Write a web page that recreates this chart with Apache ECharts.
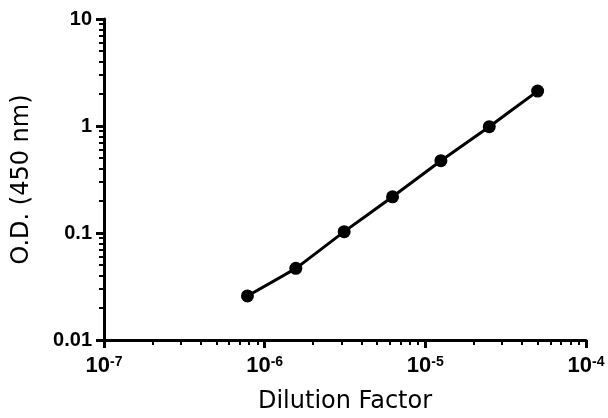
<!DOCTYPE html>
<html>
<head>
<meta charset="utf-8">
<script src="https://cdn.jsdelivr.net/npm/echarts@6/dist/echarts.min.js"></script>
<style>
html,body{margin:0;padding:0;background:#fff;}
#chart{width:608px;height:418px;}
</style>
</head>
<body>
<div id="chart"></div>
<script>
// Data
var dilutions = [7.8125e-7, 1.5625e-6, 3.125e-6, 6.25e-6, 1.25e-5, 2.5e-5, 5e-5];
var odValues = [0.0258, 0.0468, 0.103, 0.218, 0.474, 0.985, 2.12];
var xTickValues = [1e-7, 1e-6, 1e-5, 1e-4];
var xTickExponents = ['-7', '-6', '-5', '-4'];
var yTickValues = [0.01, 0.1, 1, 10];
var yTickLabels = ['0.01', '0.1', '1', '10'];
var minorMultipliers = [2, 3, 4, 5, 6, 7, 8, 9];

function minorTicks(decades) {
  var out = [];
  for (var i = 0; i < decades.length - 1; i++) {
    for (var j = 0; j < minorMultipliers.length; j++) {
      out.push(decades[i] * minorMultipliers[j]);
    }
  }
  return out;
}

function nearestIndex(arr, v) {
  var best = 0, bd = Infinity;
  for (var i = 0; i < arr.length; i++) {
    var d = Math.abs(Math.log10(arr[i]) - Math.log10(v));
    if (d < bd) { bd = d; best = i; }
  }
  return best;
}

var labelFont = '"Liberation Sans", Arial, sans-serif';
var titleFont = '"DejaVu Sans", sans-serif';

var chart = echarts.init(document.getElementById('chart'), null, {renderer: 'canvas'});
chart.setOption({
  animation: false,
  backgroundColor: '#fff',
  grid: {left: 104, right: 22, top: 19, bottom: 78, containLabel: false, outerBoundsMode: 'none'},
  xAxis: [{
    type: 'log', logBase: 10, min: 1e-7, max: 1e-4,
    position: 'bottom',
    axisLine: {show: true, lineStyle: {color: '#000', width: 3}},
    axisTick: {show: true, length: 8, lineStyle: {color: '#000', width: 3}, customValues: xTickValues},
    axisLabel: {
      show: true, margin: 15, customValues: xTickValues,
      formatter: function (v) { return '{b|10}{s|' + xTickExponents[nearestIndex(xTickValues, v)] + '}'; },
      rich: {
        b: {fontFamily: labelFont, fontWeight: 'bold', fontSize: 22, color: '#000', lineHeight: 22},
        s: {fontFamily: labelFont, fontWeight: 'bold', fontSize: 14, color: '#000', verticalAlign: 'top', lineHeight: 22}
      }
    },
    splitLine: {show: false},
    name: 'Dilution Factor', nameLocation: 'middle', nameGap: 50,
    nameTextStyle: {fontFamily: titleFont, fontSize: 24, color: '#000'}
  }, {
    type: 'log', logBase: 10, min: 1e-7, max: 1e-4,
    position: 'bottom', offset: 0,
    axisLine: {show: false},
    axisTick: {show: true, length: 5, lineStyle: {color: '#000', width: 2}, customValues: minorTicks(xTickValues)},
    axisLabel: {show: false},
    splitLine: {show: false}
  }],
  yAxis: [{
    type: 'log', logBase: 10, min: 0.01, max: 10,
    position: 'left',
    axisLine: {show: true, lineStyle: {color: '#000', width: 3}},
    axisTick: {show: true, length: 8, lineStyle: {color: '#000', width: 3}, customValues: yTickValues},
    axisLabel: {
      show: true, margin: 12, customValues: yTickValues,
      formatter: function (v) { return yTickLabels[nearestIndex(yTickValues, v)]; },
      fontFamily: labelFont, fontWeight: 'bold', fontSize: 20, color: '#000'
    },
    splitLine: {show: false},
    name: 'O.D. (450 nm)', nameLocation: 'middle', nameGap: 70, nameRotate: 90,
    nameTextStyle: {fontFamily: titleFont, fontSize: 24, color: '#000'}
  }, {
    type: 'log', logBase: 10, min: 0.01, max: 10,
    position: 'left', offset: 0,
    axisLine: {show: false},
    axisTick: {show: true, length: 5, lineStyle: {color: '#000', width: 2}, customValues: minorTicks(yTickValues)},
    axisLabel: {show: false},
    splitLine: {show: false}
  }],
  series: [{
    type: 'line',
    xAxisIndex: 0, yAxisIndex: 0,
    data: dilutions.map(function (d, i) { return [d, odValues[i]]; }),
    smooth: 0.1,
    symbol: 'circle', symbolSize: 13,
    lineStyle: {color: '#000', width: 3},
    itemStyle: {color: '#000'},
    z: 5
  }]
});
</script>
</body>
</html>
